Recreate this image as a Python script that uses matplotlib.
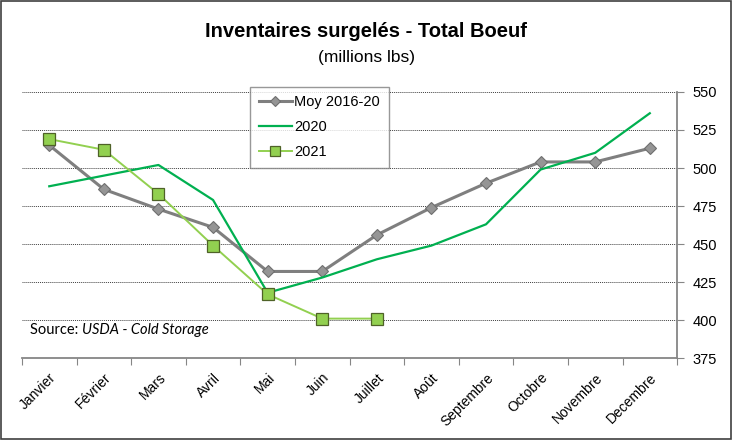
import matplotlib.pyplot as plt
import numpy as np

mois = ["Janvier", "Février", "Mars", "Avril", "Mai", "Juin", "Juillet",
        "Août", "Septembre", "Octobre", "Novembre", "Decembre"]
moy_2016_20 = [515, 486, 473, 461, 432, 432, 456, 474, 490, 504, 504, 513]
y2020 = [488, 495, 502, 479, 418, 428, 440, 449, 463, 499, 510, 536]
y2021 = [519, 512, 483, 449, 417, 401, 401]

plt.rcParams['font.family'] = ['Liberation Sans', 'DejaVu Sans']

fig = plt.figure(figsize=(7.32, 4.4), dpi=100)
ax = fig.add_axes([0.030, 0.186, 0.895, 0.605])

x = np.arange(len(mois))
ax.plot(x, moy_2016_20, color="#7f7f7f", lw=2.2, marker="D", ms=6.5,
        mfc="#959595", mec="#6f6f6f", mew=0.8, label="Moy 2016-20", zorder=3)
ax.plot(x, y2020, color="#00b050", lw=1.6, label="2020", zorder=3)
ax.plot(x[:len(y2021)], y2021, color="#92d050", lw=1.4, marker="s", ms=9,
        mfc="#92d050", mec="#4f6228", mew=0.9, label="2021", zorder=4)

ax.set_xlim(-0.5, 11.5)
ax.set_ylim(375, 550)
ax.set_yticks(range(375, 551, 25))
ax.yaxis.tick_right()
ax.tick_params(axis='y', labelsize=10.5, length=5, color="#868686", pad=6)
for v in range(400, 551, 25):
    ax.axhline(v, color="#404040", lw=0.7, ls=(0, (1, 1)), zorder=1)

# category boundaries as major ticks, labels at centers
ax.set_xticks(np.arange(-0.5, 12, 1))
ax.set_xticklabels([])
ax.set_xticks(x, minor=True)
ax.set_xticklabels(mois, minor=True, rotation=45, ha="right",
                   rotation_mode="anchor", fontsize=10)
ax.tick_params(axis='x', which='major', length=5, color="#868686")
ax.tick_params(axis='x', which='minor', length=0, pad=9)

for s in ["top", "left"]:
    ax.spines[s].set_visible(False)
for s in ["bottom", "right"]:
    ax.spines[s].set_color("#868686")
    ax.spines[s].set_linewidth(1.3)

leg = ax.legend(loc="upper left", bbox_to_anchor=(0.348, 1.02), fontsize=10.5,
                frameon=True, fancybox=False, handlelength=2.3, markerscale=0.75,
                borderpad=0.6, labelspacing=0.75, handletextpad=0.15,
                borderaxespad=0)
leg.get_frame().set_edgecolor("#7f7f7f")
leg.get_frame().set_linewidth(1.0)

fig.text(0.5, 0.915, "Inventaires surgelés - Total Boeuf", ha="center",
         fontsize=14.5, fontweight="bold")
fig.text(0.5, 0.86, "(millions lbs)", ha="center", fontsize=12.5)

src = ax.text(0.012, 0.092, "Source: ", transform=ax.transAxes, fontsize=10.5,
              family="Lato")
ax.annotate("USDA - Cold Storage", xy=(1, 0), xycoords=src, fontsize=10.5,
            family="Lato", style="italic", va="bottom")

fig.patches.append(plt.Rectangle((0.002, 0.003), 0.996, 0.994,
                                 transform=fig.transFigure, fill=False,
                                 edgecolor="#404040", lw=1.2))

fig.savefig("out.png", dpi=100)
